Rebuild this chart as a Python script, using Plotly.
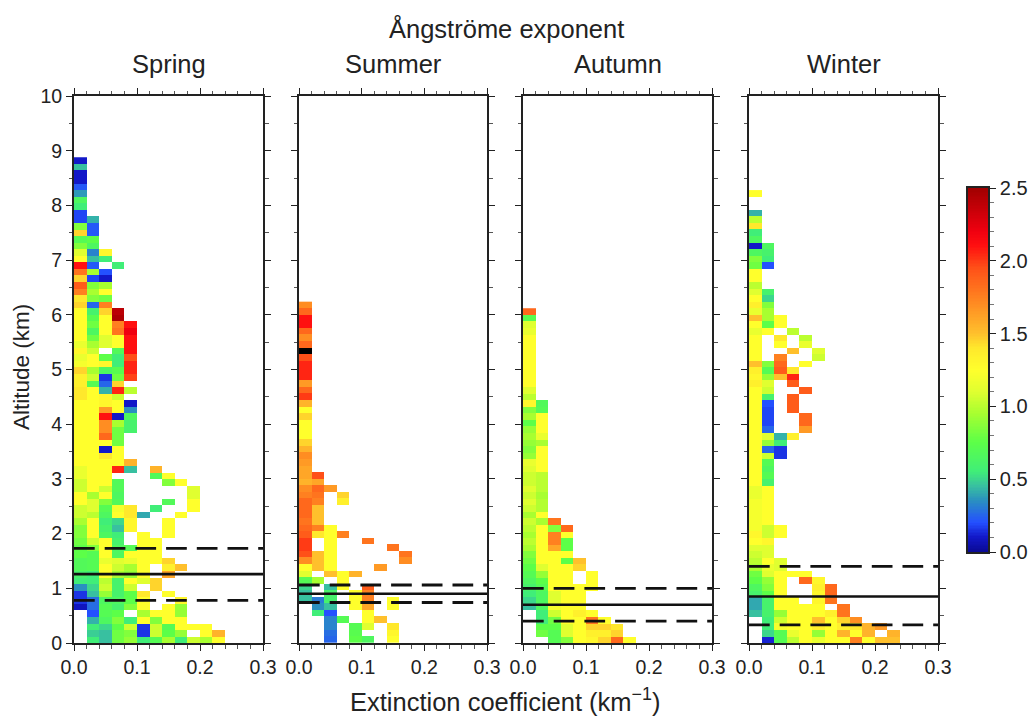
import plotly.graph_objects as go

N = None
W, H = 1032, 716
SEASONS = ["Spring", "Summer", "Autumn", "Winter"]
TITLE = "Ångströme exponent"
XLABEL = "Extinction coefficient (km<sup>−1</sup>)"
YLABEL = "Altitude (km)"
BIN_X = 0.02
BIN_Y = 0.12

# Each column: Ångström exponent per altitude bin, from the ground up
spring_c0 = [N,N,N,N,N,.08,.15,.15,.35,.55,.6,.68,.68,.75,.75,.8,.85,.85,.95,1.05,1.05,1.25,1.25,1.05,1.05,1.15,1.15,1.25,1.25,1.25,1.25,1.25,1.25,1.25,1.25,1.25,1.25,1.4,1.4,1.35,1.35,1.45,1.2,1.15,1.3,1.15,1.25,1.25,1.25,1.25,1.25,1.45,1.4,1.75,1.9,1.45,1.8,2.1,1.25,1.1,.85,.7,1.45,.85,.18,.18,.55,.65,.37,.22,.1,.1,.45,.1]
spring_c1 = [.55,.48,.55,.42,.2,.27,.27,.45,.5,.55,.55,.7,.7,.7,.85,1.05,1.25,1.25,1.25,1.0,1.1,1.1,.95,1.25,1.25,1.25,1.25,1.25,1.25,1.25,1.25,1.25,1.25,1.25,1.25,1.25,1.25,1.25,1.25,.7,1.05,.95,1.25,1.25,1.05,.95,.8,.65,.8,.72,.6,.25,.85,.95,.85,.18,.95,.22,.45,.32,.65,.75,.22,.22,.42]
spring_c2 = [.45,.45,.5,.65,.7,.7,.65,.9,1.05,1.0,1.25,1.25,1.15,1.25,1.25,1.25,.65,.6,.55,.65,.7,.85,1.25,1.05,1.25,1.25,1.25,1.25,1.4,.1,1.25,1.85,1.7,1.7,2.1,1.65,1.3,1.3,.42,.25,.15,.65,1.3,.75,N,1.1,1.1,1.25,1.25,1.25,1.45,1.75,.8,1.25,.95,.1,.2,N,.55,1.3]
spring_c3 = [.8,.8,.75,.85,.75,.6,.65,.6,.6,.6,.95,1.05,1.1,.65,.65,.6,.55,.45,.5,1.25,1.2,.68,.65,.68,.68,N,2.05,1.25,1.25,1.25,.8,.8,.8,.95,.1,1.25,1.25,1.05,2.05,1.45,.8,.72,.55,.55,.68,1.25,1.25,1.8,1.75,2.45,2.4,N,N,N,N,N,N,.55]
spring_c4 = [.9,.85,1.05,.55,N,.85,.75,.75,1.05,1.25,.9,.95,1.15,1.25,.7,N,N,1.3,1.3,1.4,1.4,N,N,N,N,N,.45,1.55,N,N,N,N,.6,.6,.65,.35,.1,N,1.0,N,1.98,2.05,2.05,1.95,2.1,2.1,2.1,2.2,2.1]
spring_c5 = [.55,.15,.15,1.25,.95,1.25,1.25,1.4,N,1.1,1.25,1.25,1.25,1.25,1.25,1.25,1.25,N,N,.4]
spring_c6 = [.7,1.05,1.05,.85,1.25,N,N,N,1.45,1.45,N,N,1.25,1.25,1.25,1.25,N,N,N,N,.55,N,N,N,N,.68,1.55]
spring_c7 = [.95,.75,.7,1.25,1.25,1.25,N,1.25,N,N,1.6,1.35,1.45,N,N,N,1.25,1.25,1.25,N,N,.68,N,N,.85,1.25]
spring_c8 = [.55,.9,1.25,1.25,.9,.9,1.3,N,N,N,N,1.5,N,N,N,N,N,N,N,1.25,N,N,N,N,1.25]
spring_c9 = [1.05,N,1.25,N,N,N,N,N,N,N,N,N,N,N,N,N,N,N,N,N,1.25,1.25,1.1,1.1]
spring_c10 = [.95,1.25,1.25]
spring_c11 = [1.25,1.55]

summer_c0 = [N,N,N,N,N,N,.45,.45,.5,.7,1.1,1.25,1.7,1.95,2.0,2.0,1.9,1.85,1.8,1.85,1.85,1.85,1.75,1.7,1.55,1.6,1.6,1.65,1.7,1.55,1.45,1.25,1.25,1.25,1.45,1.25,1.55,2.0,1.85,1.65,2.05,2.05,2.05,1.95,2.8,1.85,1.7,1.85,2.1,2.1,1.85,1.7]
summer_c1 = [N,N,N,N,.55,.35,.3,N,N,.95,N,1.5,1.5,1.5,N,N,1.4,1.75,1.5,1.5,1.5,1.75,1.8,1.85,1.6,1.95]
summer_c2 = [.25,.27,.32,.32,.2,.45,.6,.6,.45,N,1.5,1.25,1.25,1.25,1.25,1.25,1.25,1.25,N,N,N,N,N,1.65]
summer_c3 = [N,N,N,.7,N,N,N,N,1.25,1.25,1.25,N,N,N,N,N,1.75,N,N,N,N,1.35,1.45]
summer_c4 = [.75,.72,.7,N,N,1.25,1.25,1.25,N,N,1.55]
summer_c5 = [.65,N,1.1,1.25,1.25,1.6,1.75,1.75,1.9,N,N,N,N,N,N,1.8]
summer_c6 = [N,N,N,1.5,N,N,N,N,N,N,N,1.65]
summer_c7 = [1.25,1.3,1.4,N,N,1.25,1.25,N,N,N,N,N,N,N,1.8]
summer_c8 = [N,N,N,N,N,N,N,N,N,N,N,N,1.7,1.8]

autumn_c0 = [N,N,N,N,N,.45,.5,.55,.6,.65,.7,.75,.8,.85,.95,1.0,.95,1.0,1.05,.95,1.05,1.1,1.05,1.1,1.05,1.05,1.1,1.15,.9,.85,.9,.95,.9,.75,.95,.85,1.3,1.0,1.1,1.25,1.25,1.25,1.25,1.25,1.25,1.25,1.25,1.15,1.1,.72,1.85]
autumn_c1 = [N,.8,.75,.55,.55,.65,.65,.65,.7,.75,.9,1.1,1.25,1.25,1.25,1.25,1.25,1.25,.95,1.25,.98,.98,.95,1.0,1.0,1.0,1.25,1.25,1.25,1.25,.95,1.15,1.25,1.25,1.25,.7,.68]
autumn_c2 = [.7,.7,.75,.8,1.05,1.2,1.1,1.1,1.25,1.25,1.25,1.25,1.25,1.25,1.6,1.75,1.75,.85,1.8]
autumn_c3 = [.85,1.1,1.1,1.25,1.25,1.25,1.25,1.25,1.25,1.25,1.25,1.25,.75,1.25,.75,.75,1.25,1.85]
autumn_c4 = [1.25,1.25,1.25,1.25,1.35,1.25,1.25,1.25,1.25,N,N,1.45,1.5]
autumn_c5 = [1.3,1.35,1.45,1.8,1.25,N,N,N,1.25,1.25,1.25]
autumn_c6 = [1.45,1.35,1.45,1.25]
autumn_c7 = [1.85,1.45,1.4]
autumn_c8 = [1.25]

winter_c0 = [N,N,N,N,.45,.4,.4,.6,.65,.75,.8,.95,1.0,1.05,1.1,1.25,1.3,1.2,1.2,1.2,1.2,1.2,1.15,1.15,1.25,1.25,1.25,1.25,1.25,1.25,1.25,1.25,1.25,1.25,1.25,1.25,1.25,1.25,1.25,1.35,1.3,1.35,1.5,1.25,1.25,1.25,1.25,1.15,1.25,1.5,1.15,1.35,1.25,1.1,1.0,1.25,1.25,.8,.85,.65,.1,.65,.55,1.4,1.0,.42,N,N,1.25]
winter_c1 = [.12,.5,.55,.55,.6,.6,.6,.75,.85,.9,1.1,1.15,1.25,1.1,1.1,1.3,1.05,1.05,1.25,1.25,1.25,1.25,1.25,1.25,.6,.7,.65,.7,1.05,.25,.9,1.1,.25,.18,.18,.18,.2,.6,1.05,1.1,.9,.7,.85,N,N,N,N,1.25,.75,.95,.95,.85,.5,.6,N,N,N,.2,.55,.6,.65]
winter_c2 = [.7,.7,1.2,1.05,.9,1.25,1.25,1.25,1.25,1.25,1.25,1.1,1.1,N,N,N,1.25,1.25,N,N,N,N,N,N,N,N,N,N,.15,.15,.55,.42,N,N,N,N,N,N,N,N,1.5,1.9,1.85,1.75,N,1.25,1.4,N,1.25,1.25]
winter_c3 = [1.0,1.15,1.25,1.25,1.25,1.25,1.25,N,N,N,1.25,N,N,N,N,N,N,N,N,N,N,N,N,N,N,N,N,N,N,N,N,1.35,N,N,N,1.9,1.9,1.9,N,1.9,2.05,1.4,N,N,1.5,N,N,1.0]
winter_c4 = [1.25,1.25,1.25,1.25,1.25,1.25,N,N,N,1.85,1.25,N,N,N,N,N,N,N,N,N,N,N,N,N,N,N,N,N,N,N,N,N,1.65,1.85,1.85,N,N,N,1.9,N,N,N,1.25,N,N,1.15,1.0]
winter_c5 = [1.15,.9,1.35,1.5,1.25,1.25,1.3,1.3,1.35,1.3,N,N,N,N,N,N,N,N,N,N,N,N,N,N,N,N,N,N,N,N,N,N,N,N,N,N,N,N,N,N,N,N,N,1.05,1.1]
winter_c6 = [1.25,1.25,1.25,1.25,1.35,N,1.8,1.85,1.85]
winter_c7 = [1.25,1.55,1.35,1.45,1.8,1.8]
winter_c8 = [1.75,1.25,1.4,1.7]
winter_c9 = [1.25,1.55,1.55]
winter_c10 = [1.5,N,1.65]
winter_c11 = [1.5,1.55]

COLUMNS = {
    "Spring": [spring_c0, spring_c1, spring_c2, spring_c3, spring_c4, spring_c5, spring_c6, spring_c7, spring_c8, spring_c9, spring_c10, spring_c11],
    "Summer": [summer_c0, summer_c1, summer_c2, summer_c3, summer_c4, summer_c5, summer_c6, summer_c7, summer_c8],
    "Autumn": [autumn_c0, autumn_c1, autumn_c2, autumn_c3, autumn_c4, autumn_c5, autumn_c6, autumn_c7, autumn_c8],
    "Winter": [winter_c0, winter_c1, winter_c2, winter_c3, winter_c4, winter_c5, winter_c6, winter_c7, winter_c8, winter_c9, winter_c10, winter_c11],
}
MEAN_H = {"Spring": 1.26, "Summer": 0.90, "Autumn": 0.70, "Winter": 0.85}
UPPER_H = {"Spring": 1.73, "Summer": 1.06, "Autumn": 1.00, "Winter": 1.40}
LOWER_H = {"Spring": 0.78, "Summer": 0.74, "Autumn": 0.40, "Winter": 0.33}

PANEL_PX = [(74, 263), (299, 487), (523, 712), (749, 938)]
TOP_PX, BOTTOM_PX = 96, 643
CB_LEFT, CB_TOP, CB_BOTTOM, CB_W = 968, 188, 552, 20
CB_LEVELS = [k / 100 for k in range(0, 251)]
INK = "#222222"
FONT = "Liberation Sans"

COLORS = [
    [0.00, "#0a0a96"], [0.04, "#1218c8"], [0.08, "#2450ff"], [0.14, "#2a90c0"], [0.18, "#38c0a0"],
    [0.22, "#40ee78"], [0.30, "#5cff48"], [0.38, "#a8ff30"], [0.44, "#e0ff30"], [0.50, "#ffff2c"],
    [0.56, "#ffe82c"], [0.60, "#ffc02c"], [0.70, "#ff8020"], [0.78, "#ff5018"], [0.84, "#ff1010"],
    [0.88, "#f00010"], [0.94, "#c80008"], [1.00, "#a00000"],
]

def note(text, px, py, size, **kw):
    fig.add_annotation(text=text, x=px / W, y=1 - py / H, xref="paper", yref="paper", showarrow=False,
                       xanchor="center", yanchor="middle", font=dict(size=size, color=INK, family=FONT), **kw)

fig = go.Figure()
for i, season in enumerate(SEASONS):
    n = str(i + 1) if i else ""
    columns = COLUMNS[season]
    nrows = max(len(c) for c in columns)
    y = [(r + 0.5) * BIN_Y for r in range(nrows)]
    x = [(c + 0.5) * BIN_X for c in range(len(columns))]
    z, over = [], []
    for r in range(nrows):
        row = [c[r] if r < len(c) else None for c in columns]
        z.append([v if v is not None and v <= 2.5 else None for v in row])
        over.append([v if v is not None and v > 2.5 else None for v in row])
    fig.add_trace(go.Heatmap(x=x, y=y, z=z, coloraxis="coloraxis", xaxis="x" + n, yaxis="y" + n, hoverongaps=False))
    if any(v is not None for row in over for v in row):
        fig.add_trace(go.Heatmap(x=x, y=y, z=over, colorscale=[[0, "#000000"], [1, "#000000"]], showscale=False,
                                 xaxis="x" + n, yaxis="y" + n, hoverongaps=False))
    for level, dash, width in ((MEAN_H[season], "solid", 2.6), (UPPER_H[season], "20.7px,10px", 2.8), (LOWER_H[season], "20.7px,10px", 2.8)):
        fig.add_trace(go.Scatter(x=[0, 0.3], y=[level, level], mode="lines", xaxis="x" + n, yaxis="y" + n,
                                 line=dict(color="#111111", width=width, dash=dash), showlegend=False, hoverinfo="skip"))
    left, right = PANEL_PX[i]
    fig.update_layout({
        "xaxis" + n: dict(domain=[left / W, right / W], anchor="y" + n, range=[0, 0.3], tickvals=[0, 0.1, 0.2, 0.3],
                          ticktext=["0.0", "0.1", "0.2", "0.3"], ticks="outside", ticklen=6, tickwidth=1.2, tickcolor=INK,
                          minor=dict(dtick=0.02, ticks="outside", ticklen=3.5, tickwidth=1, tickcolor="#555555"),
                          showline=True, linecolor=INK, linewidth=2, mirror="ticks", showgrid=False, zeroline=False,
                          automargin=False, tickfont=dict(size=19.5, color=INK, family=FONT)),
        "yaxis" + n: dict(domain=[1 - BOTTOM_PX / H, 1 - TOP_PX / H], anchor="x" + n, range=[0, 10], dtick=1,
                          ticks="outside", ticklen=6, tickwidth=1.2, tickcolor=INK, showticklabels=i == 0,
                          minor=dict(dtick=0.5, ticks="outside", ticklen=3.5, tickwidth=1, tickcolor="#555555"),
                          showline=True, linecolor=INK, linewidth=2, mirror="ticks", showgrid=False, zeroline=False,
                          automargin=False, tickfont=dict(size=19.5, color=INK, family=FONT)),
    })
    note(season, (left + right) / 2, 64, 25.5)

# Colour key: its own small subplot, so that it can carry real major and minor ticks
fig.add_trace(go.Heatmap(x=[0, 1], y=CB_LEVELS, z=[[v, v] for v in CB_LEVELS], coloraxis="coloraxis",
                         xaxis="x5", yaxis="y5", hoverinfo="skip"))
fig.update_layout(
    xaxis5=dict(domain=[CB_LEFT / W, (CB_LEFT + CB_W) / W], anchor="y5", range=[-0.5, 1.5], showticklabels=False,
                ticks="", showline=True, linecolor=INK, linewidth=1.6, mirror=True, showgrid=False, zeroline=False,
                automargin=False),
    yaxis5=dict(domain=[1 - CB_BOTTOM / H, 1 - CB_TOP / H], anchor="x5", side="right", range=[0, 2.5],
                tickvals=[0, 0.5, 1, 1.5, 2, 2.5], ticktext=["0.0", "0.5", "1.0", "1.5", "2.0", "2.5"],
                ticks="outside", ticklen=6, tickwidth=1.2, tickcolor=INK,
                minor=dict(dtick=0.1, ticks="outside", ticklen=4, tickwidth=1, tickcolor="#777777"),
                showline=True, linecolor=INK, linewidth=1.6, mirror=True, showgrid=False, zeroline=False,
                automargin=False, tickfont=dict(size=20, color=INK, family=FONT)),
)

note(TITLE, 506, 28, 25.5)
note(XLABEL, 505, 700, 25.5)
note(YLABEL, 21, 367, 22.5, textangle=-90)

fig.update_layout(
    template="none", width=W, height=H, margin=dict(l=0, r=0, t=0, b=0, pad=0), paper_bgcolor="white", plot_bgcolor="white", showlegend=False,
    coloraxis=dict(cmin=0, cmax=2.5, colorscale=COLORS, showscale=False),
)
fig.write_html("out.html", config=dict(displayModeBar=False),
               post_script="document.body.style.margin='0';document.body.style.overflow='hidden';")
